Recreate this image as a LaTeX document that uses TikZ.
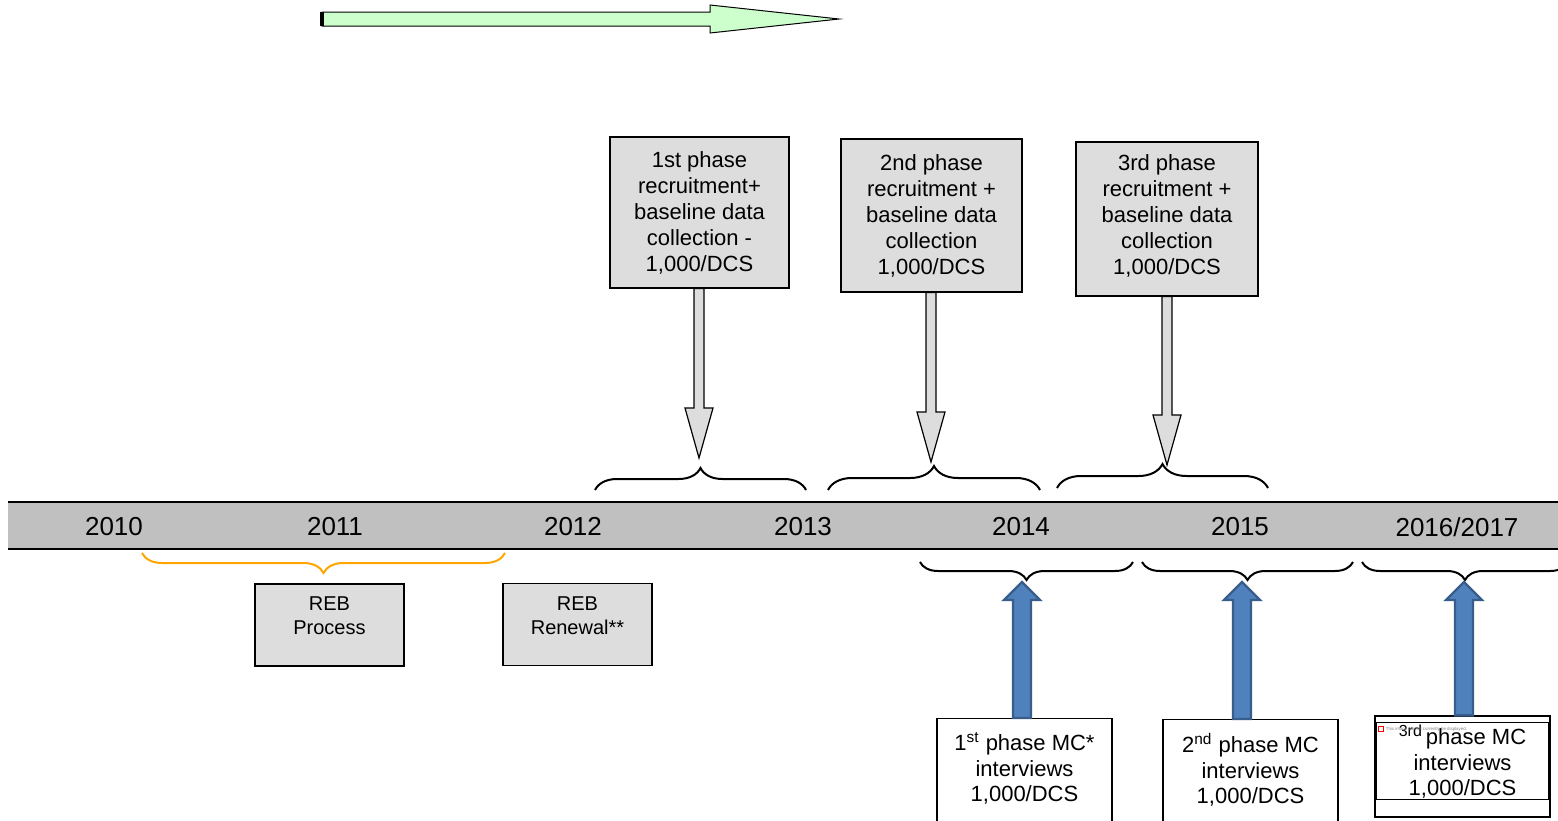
\documentclass[tikz,border=0pt]{standalone}
\usepackage{fontspec}
\setmainfont{Liberation Sans}
\usetikzlibrary{calc}
\usetikzlibrary{decorations.pathreplacing}

\definecolor{bandgray}{HTML}{C0C0C0}
\definecolor{boxgray}{HTML}{DDDDDD}
\definecolor{paleg}{HTML}{CCFFCC}
\definecolor{rebor}{HTML}{FFA500}
\definecolor{mcblue}{HTML}{4F81BD}
\definecolor{mcblueline}{HTML}{385D8A}

% block arrows: #1 = box, #2 = tip
\newcommand{\grayarrow}[2]{%
  \draw[downarr] let \p1=(#1.south), \p2=(#2) in
    (\x2-2.5pt,\y1) -- (\x2-2.5pt,\y2+25pt) -- (\x2-7pt,\y2+25pt) -- (\x2,\y2)
    -- (\x2+7pt,\y2+25pt) -- (\x2+2.5pt,\y2+25pt) -- (\x2+2.5pt,\y1) -- cycle;}
\newcommand{\bluearrow}[2]{%
  \draw[uparr] let \p1=(#1.north), \p2=(#2) in
    (\x2-4.5pt,\y1) -- (\x2-4.5pt,\y2-9pt) -- (\x2-9pt,\y2-9pt) -- (\x2,\y2)
    -- (\x2+9pt,\y2-9pt) -- (\x2+4.5pt,\y2-9pt) -- (\x2+4.5pt,\y1) -- cycle;}

\begin{document}
\begin{tikzpicture}[x=0.5pt, y=-0.5pt,
    phasebox/.style={draw, fill=boxgray, line width=0.6pt, align=center,
      font=\fontsize{11}{13}\selectfont, inner sep=0pt},
    rebbox/.style={draw, fill=boxgray, line width=0.6pt, align=center,
      font=\fontsize{10}{12}\selectfont, inner sep=0pt,
      minimum width=74.5pt, minimum height=41pt, text depth=9pt},
    mcbox/.style={draw, fill=white, line width=0.6pt, align=center,
      font=\fontsize{11}{12.75}\selectfont, anchor=north,
      minimum width=87.5pt, inner xsep=0pt, inner ysep=7pt, text depth=30pt},
    yearlbl/.style={font=\fontsize{13}{15}\selectfont},
    brc/.style={decorate, line width=1pt},
    downarr/.style={draw=black, fill=boxgray, line width=0.6pt},
    uparr/.style={draw=mcblueline, fill=mcblue, line width=1.2pt}]
  \useasboundingbox (0,0) rectangle (1558,820);
  \clip (0,0) rectangle (1558,820);

  % green arrow
  \draw[fill=paleg, line width=0.5pt] (322,12) -- (710,12) -- (710,5) -- (839,19)
    -- (710,33) -- (710,26) -- (322,26) -- cycle;
  \draw[line width=2pt] (322,12) -- (322,26);

  % time band
  \fill[bandgray] (8,502) rectangle (1558,549);
  \draw[line width=1pt] (8,502) -- (1558,502);
  \draw[line width=1pt] (8,549) -- (1558,549);
  \foreach \yx/\yr in {114/2010, 335/2011, 573/2012, 803/2013, 1021/2014, 1240/2015} {
    \node[yearlbl] (y\yr) at (\yx,527) {\yr};
  }
  \node[yearlbl] (y2016) at (1457,527) {2016/2017};

  % recruitment boxes
  \node[phasebox, minimum width=89.5pt, minimum height=75.5pt] (rec1) at (699.5,212.5)
    {1st phase\\recruitment+\\baseline data\\collection -\\1,000/DCS};
  \node[phasebox, minimum width=90.5pt, minimum height=76.5pt] (rec2) at (931.5,215.5)
    {2nd phase\\recruitment +\\baseline data\\collection\\1,000/DCS};
  \node[phasebox, minimum width=91pt, minimum height=77pt, text depth=4pt] (rec3) at (1167,219)
    {3rd phase\\recruitment +\\baseline data\\collection\\1,000/DCS};

  \coordinate (t1) at (699,458);
  \coordinate (t2) at (931,462);
  \coordinate (t3) at (1167,465);
  \grayarrow{rec1}{t1}
  \grayarrow{rec2}{t2}
  \grayarrow{rec3}{t3}

  \draw[brc, decoration={brace, amplitude=11pt}] (595,490) -- (806,490);
  \draw[brc, decoration={brace, amplitude=12pt}] (828,490) -- (1040,490);
  \draw[brc, decoration={brace, amplitude=12pt}] (1057,488) -- (1268,488);

  % REB
  \draw[brc, rebor, decoration={brace, amplitude=10pt}] (505,553) -- (142,553);
  \node[rebbox] (reb1) at (329.5,625) {REB\\Process};
  \node[rebbox] (reb2) at (577.5,624.5) {REB\\Renewal**};

  % MC interviews
  \draw[brc, decoration={brace, amplitude=9pt}] (1133,562) -- (920,562);
  \draw[brc, decoration={brace, amplitude=9pt}] (1353,562) -- (1142,562);
  \draw[brc, decoration={brace, amplitude=9pt}] (1568,562) -- (1362,562);

  \node[mcbox] (mc1) at (1024.5,718) {1\textsuperscript{st} phase MC*\\interviews\\1,000/DCS};
  \node[mcbox] (mc2) at (1250.5,719) {2\textsuperscript{nd} phase MC\\interviews\\1,000/DCS};
  \node[draw, fill=white, line width=0.6pt, align=center, font=\fontsize{11}{12.75}\selectfont,
    minimum width=87.5pt, minimum height=50.5pt, inner sep=0pt, text depth=6pt] (mc3) at (1462.5,766.5)
    {{\fontsize{8}{9}\selectfont\raisebox{4pt}{3rd}}\hspace{2pt}phase MC\\interviews\\1,000/DCS};
  \draw[line width=0.5pt] ([shift={(1pt,-3.5pt)}]mc3.north west) rectangle ([shift={(-1pt,9pt)}]mc3.south east);
  \node[draw=red, line width=0.2pt, inner sep=0pt, minimum size=2.5pt, anchor=west] (noimg) at (1378,729) {};
  \node[anchor=west, inner sep=0pt, text=gray, font=\fontsize{2.2}{3}\selectfont] (noimgtxt) at (noimg.east)
    {\hspace{1pt}This image cannot currently be displayed.};

  \coordinate (s1) at (1022,582);
  \coordinate (s2) at (1242,582);
  \coordinate (s3) at (1464,582);
  \bluearrow{mc1}{s1}
  \bluearrow{mc2}{s2}
  \bluearrow{mc3}{s3}
\end{tikzpicture}
\end{document}
